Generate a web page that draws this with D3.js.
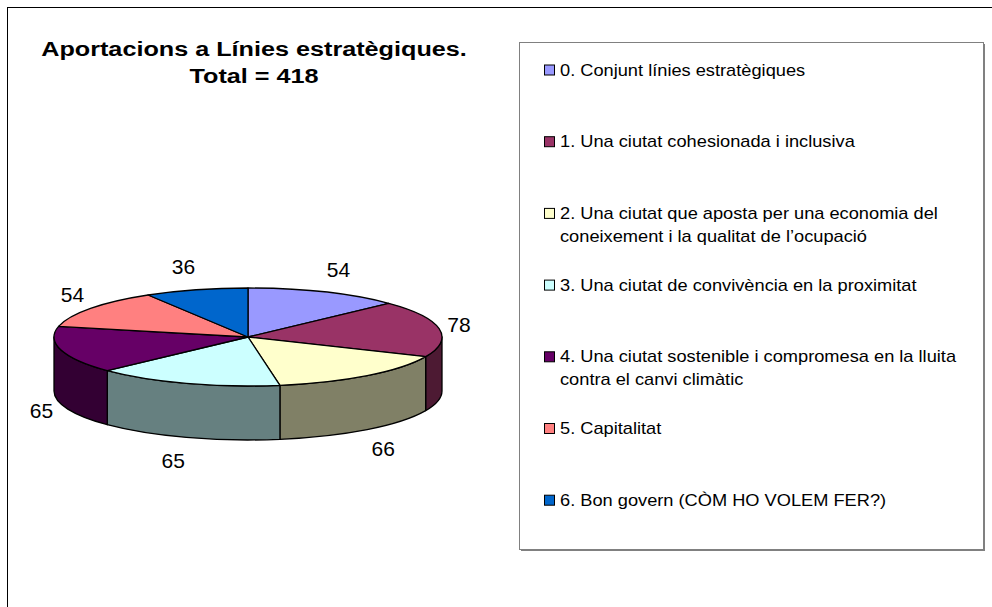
<!DOCTYPE html>
<html lang="ca">
<head>
    <meta charset="UTF-8">
    <title>Aportacions a Línies estratègiques</title>
    <script src="https://cdn.jsdelivr.net/npm/d3@7"></script>
    <style>
        body { margin: 0; background: #fff; }
        text { font-family: "Liberation Sans", Arial, sans-serif; fill: #000; }
    </style>
</head>
<body>
<script>
    const titleLines = ["Aportacions a Línies estratègiques.", "Total = 418"];
    const categories = [
        ["0. Conjunt línies estratègiques"],
        ["1. Una ciutat cohesionada i inclusiva"],
        ["2. Una ciutat que aposta per una economia del", "coneixement i la qualitat de l’ocupació"],
        ["3. Una ciutat de convivència en la proximitat"],
        ["4. Una ciutat sostenible i compromesa en la lluita", "contra el canvi climàtic"],
        ["5. Capitalitat"],
        ["6. Bon govern (CÒM HO VOLEM FER?)"]
    ];
    const values = [54, 78, 66, 65, 65, 54, 36];
    const colors = ["#9999FF", "#993366", "#FFFFCC", "#CCFFFF", "#660066", "#FF8080", "#0066CC"];

    const dim = {width: 992, height: 607};
    const pieDim = {cx: 248, cy: 337, rx: 194, ry: 49, depth: 54};
    const leg = {x: 519, y: 42, w: 464, h: 507, first: 70, step: 71.7, line: 23};
    // the original chart was stretched sideways when pasted, so glyphs run wide
    const stretch = {title: 1.2, legend: 1.14};

    const svg = d3.select("body").append("svg")
        .attr("width", dim.width)
        .attr("height", dim.height);

    // outer chart frame (runs off the page on the right and bottom)
    svg.append("rect")
        .attr("x", 7.5).attr("y", 7.5)
        .attr("width", 1000).attr("height", 700)
        .attr("fill", "none").attr("stroke", "#000");

    // title
    svg.append("g")
        .attr("transform", `translate(254,0) scale(${stretch.title},1)`)
        .append("text")
        .attr("text-anchor", "middle")
        .style("font-size", "21px").style("font-weight", "bold")
        .selectAll("tspan")
        .data(titleLines)
        .join("tspan")
        .attr("x", 0)
        .attr("y", (d, i) => 56 + i * 27)
        .text(d => d);

    const slices = d3.pie().sort(null).value(d => d)(values);
    const sideColor = c => { const r = d3.rgb(c); return d3.rgb(r.r / 2, r.g / 2, r.b / 2).formatHex(); };

    function pt(a, dy = 0) {
        return [pieDim.cx + pieDim.rx * Math.sin(a), pieDim.cy - pieDim.ry * Math.cos(a) + dy];
    }

    const pie = svg.append("g")
        .attr("stroke", "#000")
        .attr("stroke-width", 1.3)
        .attr("stroke-linejoin", "round");

    // visible side walls (front half of the cylinder)
    pie.selectAll("path.side")
        .data(slices.filter(d => Math.min(d.endAngle, 1.5 * Math.PI) > Math.max(d.startAngle, 0.5 * Math.PI)))
        .join("path")
        .attr("class", "side")
        .attr("fill", d => sideColor(colors[d.index]))
        .attr("d", d => {
            const s0 = Math.max(d.startAngle, 0.5 * Math.PI);
            const s1 = Math.min(d.endAngle, 1.5 * Math.PI);
            return `M${pt(s0)} A${pieDim.rx},${pieDim.ry} 0 0 1 ${pt(s1)}` +
                ` L${pt(s1, pieDim.depth)} A${pieDim.rx},${pieDim.ry} 0 0 0 ${pt(s0, pieDim.depth)} Z`;
        });

    // top faces
    pie.selectAll("path.top")
        .data(slices)
        .join("path")
        .attr("class", "top")
        .attr("fill", d => colors[d.index])
        .attr("d", d => {
            const large = d.endAngle - d.startAngle > Math.PI ? 1 : 0;
            return `M${pieDim.cx},${pieDim.cy} L${pt(d.startAngle)}` +
                ` A${pieDim.rx},${pieDim.ry} 0 ${large} 1 ${pt(d.endAngle)} Z`;
        });

    // value labels
    svg.append("g").selectAll("text")
        .data(slices)
        .join("text")
        .attr("text-anchor", "middle")
        .attr("dominant-baseline", "central")
        .style("font-size", "21px")
        .attr("x", d => {
            const a = (d.startAngle + d.endAngle) / 2;
            return pieDim.cx + (pieDim.rx + 10) * Math.sin(a) + Math.sign(Math.sin(a)) * 10;
        })
        .attr("y", d => {
            const a = (d.startAngle + d.endAngle) / 2;
            return pieDim.cy - (pieDim.ry + 24) * Math.cos(a) + (Math.cos(a) < 0 ? pieDim.depth : 0);
        })
        .text(d => d.value);

    // legend
    const lg = svg.append("g");
    lg.append("rect")
        .attr("x", leg.x + 2).attr("y", leg.y + 2)
        .attr("width", leg.w).attr("height", leg.h)
        .attr("fill", "#808080");
    lg.append("rect")
        .attr("x", leg.x + 0.5).attr("y", leg.y + 0.5)
        .attr("width", leg.w).attr("height", leg.h)
        .attr("fill", "#fff").attr("stroke", "#808080");

    const items = lg.selectAll("g.item")
        .data(categories)
        .join("g")
        .attr("class", "item")
        .attr("transform", (d, i) => `translate(${leg.x + 25},${leg.y + leg.first + i * leg.step - 42})`);

    items.append("rect")
        .attr("x", 0.5).attr("y", -5)
        .attr("width", 10).attr("height", 10)
        .attr("fill", (d, i) => colors[i])
        .attr("stroke", "#000");

    items.append("text")
        .attr("transform", `translate(16,0) scale(${stretch.legend},1)`)
        .style("font-size", "16px")
        .selectAll("tspan")
        .data(d => d)
        .join("tspan")
        .attr("x", 0)
        .attr("y", (d, i) => i * leg.line)
        .attr("dominant-baseline", "central")
        .text(d => d);
</script>
</body>
</html>
